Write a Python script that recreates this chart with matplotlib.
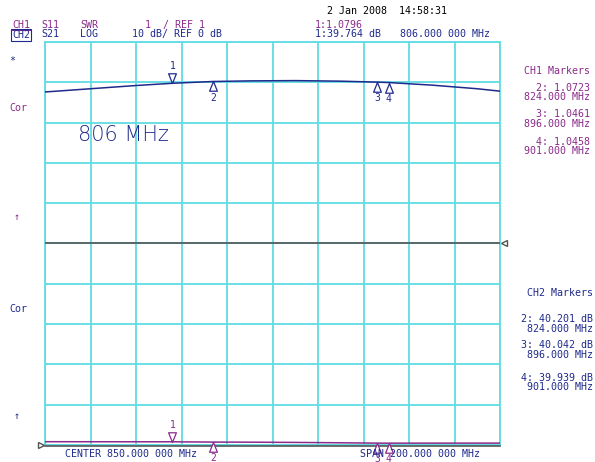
import matplotlib.pyplot as plt
import matplotlib.transforms as mtransforms
from matplotlib.lines import Line2D
from matplotlib.path import Path

# CH2: S21 LOG (dB), CH1: S11 SWR
freq_s21 = [750, 770, 790, 806, 824, 840, 860, 880, 896, 901, 920, 940, 950]
s21_db = [37.6, 38.4, 39.2, 39.76, 40.20, 40.35, 40.42, 40.28, 40.04, 39.94, 39.3, 38.4, 37.8]
freq_s11 = [750, 770, 790, 806, 824, 840, 860, 880, 896, 901, 920, 940, 950]
s11_swr = [1.082, 1.081, 1.080, 1.0796, 1.0723, 1.070, 1.064, 1.055, 1.0461, 1.0458, 1.046, 1.047, 1.047]

marker_freqs = [806, 824, 896, 901]
ch1_marker_vals = [1.0796, 1.0723, 1.0461, 1.0458]
ch2_marker_vals = [39.764, 40.201, 40.042, 39.939]

BLUE = "#1f2a8c"
PURPLE = "#8a2a8a"
CYAN = "#5fdde3"
MONO = "DejaVu Sans Mono"

fig = plt.figure(figsize=(5.95, 4.62), dpi=100)
ax = fig.add_axes([45 / 595, 17 / 462, 455 / 595, 403 / 462])
ax.set_xlim(750, 950)
ax.set_ylim(-50, 50)
ax.set_xticks(range(750, 951, 20))
ax.set_yticks(range(-50, 51, 10))
ax.tick_params(length=0, labelbottom=False, labelleft=False)
ax.grid(True, color=CYAN, lw=1.3)
for sp in ax.spines.values():
    sp.set_color(CYAN)
    sp.set_linewidth(1.3)

ax2 = ax.twinx()
ax2.set_ylim(1, 11)
ax2.axis("off")

# reference lines
ax.axhline(0, color="#555555", lw=1.2, zorder=3)
ax.plot([950], [0], marker="<", ms=5, mfc="white", mec="#555555", clip_on=False, zorder=4,
        transform=mtransforms.offset_copy(ax.transData, fig, x=3, units="points"))
ax.axhline(-50.3, color="#555555", lw=1.2, zorder=3, clip_on=False)
ax.plot([750], [-50], marker=">", ms=5, mfc="white", mec="#555555", clip_on=False, zorder=4,
        transform=mtransforms.offset_copy(ax.transData, fig, x=-3, units="points"))

ax.plot(freq_s21, s21_db, color=BLUE, lw=1.1, zorder=5)
ax2.plot(freq_s11, s11_swr, color=PURPLE, lw=1.1, zorder=5)

down_tri = Path([(0, 0), (-0.4, 1), (0.4, 1), (0, 0)], [Path.MOVETO, Path.LINETO, Path.LINETO, Path.CLOSEPOLY])
up_tri = Path([(0, 0), (-0.4, -1), (0.4, -1), (0, 0)], [Path.MOVETO, Path.LINETO, Path.LINETO, Path.CLOSEPOLY])


def draw_markers(axis, vals, color):
    for i, (f, v) in enumerate(zip(marker_freqs, vals)):
        if i == 0:
            axis.plot(f, v, marker=down_tri, ms=14, mfc="white", mec=color, mew=0.9, clip_on=False, zorder=6)
            axis.annotate(str(i + 1), (f, v), xytext=(0, 8.5), textcoords="offset points", ha="center",
                          va="bottom", color=color, fontsize=7, family=MONO, annotation_clip=False)
        else:
            axis.plot(f, v, marker=up_tri, ms=14, mfc="white", mec=color, mew=0.9, clip_on=False, zorder=6)
            axis.annotate(str(i + 1), (f, v), xytext=(0, -8), textcoords="offset points", ha="center",
                          va="top", color=color, fontsize=7, family=MONO, annotation_clip=False)


draw_markers(ax, ch2_marker_vals, BLUE)
draw_markers(ax2, ch1_marker_vals, PURPLE)

ax.text(0.073, 0.77, "806 MHz", transform=ax.transAxes, color=BLUE, fontsize=15,
        family="DejaVu Sans", fontweight="light", va="center")


def ftext(x, y, s, color, ha="left", size=7.2, **kw):
    fig.text(x / 595, 1 - y / 462, s, color=color, ha=ha, va="center", fontsize=size, family=MONO, **kw)


# header
ftext(12, 25, "CH1", PURPLE)
fig.add_artist(Line2D([12 / 595, 30 / 595], [1 - 29.5 / 462] * 2, color=PURPLE, lw=0.8))
ftext(12, 35, "CH2", BLUE, bbox=dict(boxstyle="square,pad=0.1", fc="none", ec=BLUE, lw=0.8))
ftext(41, 25, "S11", PURPLE)
ftext(41, 34, "S21", BLUE)
ftext(80, 25, "SWR", PURPLE)
ftext(80, 34, "LOG", BLUE)
ftext(145, 25, "1  / REF 1", PURPLE)
ftext(132, 34, "10 dB/ REF 0 dB", BLUE)
ftext(327, 11, "2 Jan 2008  14:58:31", "black")
ftext(315, 25, "1:1.0796", PURPLE)
ftext(315, 34, "1:39.764 dB", BLUE)
ftext(490, 34, "806.000 000 MHz", BLUE, ha="right")

# left annotations
ftext(9, 61, "*", BLUE)
ftext(9, 108, "Cor", PURPLE)
ftext(14, 217, "\u2191", PURPLE)
ftext(9, 309, "Cor", BLUE)
ftext(14, 416, "\u2191", BLUE)

# right marker tables
ftext(590, 71, "CH1 Markers", PURPLE, ha="right")
ch1_rows = ["2: 1.0723", "824.000 MHz", "3: 1.0461", "896.000 MHz", "4: 1.0458", "901.000 MHz"]
for s, y in zip(ch1_rows, [88, 97, 114, 124, 142, 151]):
    ftext(590, y, s, PURPLE, ha="right")
ftext(593, 293, "CH2 Markers", BLUE, ha="right")
ch2_rows = ["2: 40.201 dB", "824.000 MHz", "3: 40.042 dB", "896.000 MHz", "4: 39.939 dB", "901.000 MHz"]
for s, y in zip(ch2_rows, [319, 329, 345, 355, 378, 387]):
    ftext(593, y, s, BLUE, ha="right")

# bottom
ftext(65, 454, "CENTER 850.000 000 MHz", BLUE)
ftext(360, 454, "SPAN 200.000 000 MHz", BLUE)

fig.savefig("out.png", dpi=100, facecolor="white")
